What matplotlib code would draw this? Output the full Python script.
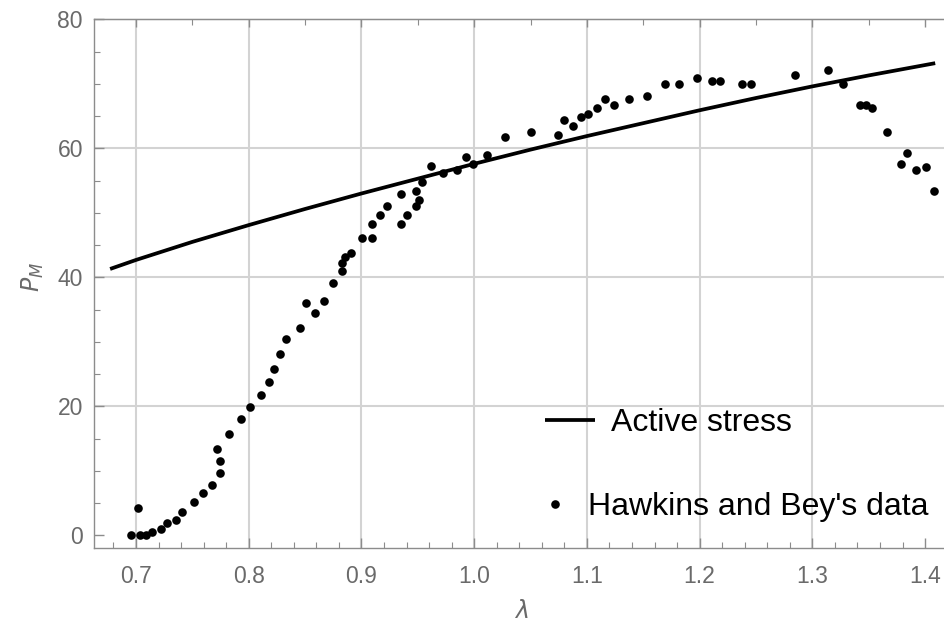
import matplotlib
matplotlib.use("Agg")
import matplotlib.pyplot as plt
from matplotlib.ticker import MultipleLocator, FixedLocator
from matplotlib.lines import Line2D

plt.rcParams['font.family'] = ['Liberation Sans', 'DejaVu Sans']

# Hawkins and Bey's data (stretch, force)
data_lam = [0.6959, 0.7014, 0.7038, 0.7090, 0.7145, 0.7220, 0.7275, 0.7355, 0.7410, 0.7510,
            0.7590, 0.7670, 0.7747, 0.7747, 0.7718, 0.7827, 0.7930, 0.8013, 0.8113, 0.8176,
            0.8223, 0.8273, 0.8326, 0.8459, 0.8510, 0.8590, 0.8670, 0.8746, 0.8823, 0.8823,
            0.8853, 0.8906, 0.9006, 0.9089, 0.9089, 0.9166, 0.9225, 0.9350, 0.9350, 0.9403,
            0.9485, 0.9509, 0.9485, 0.9535, 0.9615, 0.9722, 0.9846, 0.9928, 0.9988, 1.0112,
            1.0274, 1.0500, 1.0744, 1.0797, 1.0874, 1.0950, 1.1010, 1.1087, 1.1163, 1.1240,
            1.1376, 1.1530, 1.1690, 1.1820, 1.1979, 1.2110, 1.2180, 1.2372, 1.2452, 1.2845,
            1.3135, 1.3268, 1.3422, 1.3480, 1.3530, 1.3663, 1.3791, 1.3844, 1.3924, 1.4004,
            1.4083]
data_P = [0.1, 4.3, 0.0, 0.0, 0.5, 1.0, 1.9, 2.35, 3.7, 5.1,
          6.5, 7.8, 9.7, 11.55, 13.4, 15.7, 18.0, 19.9, 21.7, 23.8,
          25.8, 28.1, 30.5, 32.2, 36.0, 34.5, 36.4, 39.1, 41.0, 42.3,
          43.2, 43.7, 46.1, 46.1, 48.3, 49.7, 51.1, 48.3, 52.9, 49.7,
          51.1, 52.0, 53.4, 54.8, 57.2, 56.2, 56.7, 58.6, 57.6, 59.0,
          61.7, 62.6, 62.1, 64.4, 63.5, 64.8, 65.3, 66.2, 67.6, 66.7,
          67.6, 68.1, 69.95, 69.95, 70.9, 70.4, 70.4, 69.95, 69.95, 71.3,
          72.2, 69.95, 66.7, 66.7, 66.2, 62.6, 57.5, 59.35, 56.6, 57.1,
          53.4]

# Active stress curve
model_lam = [0.677, 0.70, 0.75, 0.80, 0.85, 0.90, 0.95, 1.00, 1.05, 1.10,
             1.15, 1.20, 1.25, 1.30, 1.35, 1.409]
model_P = [41.3, 42.7, 45.5, 48.1, 50.6, 53.0, 55.3, 57.6, 59.8, 61.9,
           63.9, 65.9, 67.8, 69.6, 71.3, 73.2]

x_ticks = [0.7, 0.8, 0.9, 1.0, 1.1, 1.2, 1.3, 1.4]
x_ticklabels = ['0.7', '0.8', '0.9', '1.0', '1.1', '1.2', '1.3', '1.4']
y_ticks = [0, 20, 40, 60, 80]
x_grid = [0.7, 0.8, 0.9, 1.0, 1.1, 1.2, 1.3]
y_grid = [20, 40, 60]

GRAY = '#6a6a6a'
FRAME = '#8c8c8c'
GRID = '#d3d3d3'

W, H = 945, 638
fig = plt.figure(figsize=(W / 100, H / 100), dpi=100)
left, right, top, bottom = 94, 945, 19.3, 548.3
ax = fig.add_axes([left / W, 1 - bottom / H, (right - left) / W, (bottom - top) / H])

ax.set_xlim(0.6627, 1.4177)
ax.set_ylim(-2, 80)

for gx in x_grid:
    ax.axvline(gx, color=GRID, lw=1.5, zorder=0)
for gy in y_grid:
    ax.axhline(gy, color=GRID, lw=1.5, zorder=0)

ax.plot(model_lam, model_P, color='black', lw=2.7, solid_capstyle='butt', zorder=3,
        label='Active stress')
ax.plot(data_lam, data_P, linestyle='none', marker='o', ms=6.2, color='black',
        markeredgewidth=0, zorder=4, label="Hawkins and Bey's data")

for s in ax.spines.values():
    s.set_color(FRAME)
    s.set_linewidth(1.0)

ax.xaxis.set_major_locator(FixedLocator(x_ticks))
ax.set_xticklabels(x_ticklabels)
ax.xaxis.set_minor_locator(MultipleLocator(0.02))
ax.yaxis.set_major_locator(FixedLocator(y_ticks))
ax.yaxis.set_minor_locator(MultipleLocator(5))
ax.tick_params(which='both', direction='in', color=FRAME, labelcolor=GRAY,
               labelsize=16.5, top=False, right=False)
ax.tick_params(which='major', length=7, width=1.0)
ax.tick_params(which='minor', length=4, width=0.8)
ax.tick_params(axis='x', pad=12)
ax.tick_params(axis='y', pad=8)

secx = ax.secondary_xaxis('top')
secx.xaxis.set_major_locator(FixedLocator([0.7, 0.8, 0.9, 1.0, 1.1, 1.2, 1.3, 1.4]))
secx.xaxis.set_minor_locator(MultipleLocator(0.05))
secx.tick_params(which='both', direction='in', color=FRAME, labeltop=False)
secx.tick_params(which='major', length=6, width=1.0)
secx.tick_params(which='minor', length=4, width=0.8)
secx.spines['top'].set_color(FRAME)

fig.text(33 / W, 1 - 277 / H, r'$P_M$', rotation=90, ha='center', va='center',
         fontsize=17, color=GRAY)
fig.text(521 / W, 1 - 612 / H, r'$\lambda$', ha='center', va='center',
         fontsize=17, color=GRAY)

h_line = Line2D([], [], color='black', lw=2.7, solid_capstyle='butt')
h_dot = Line2D([], [], color='black', marker='o', ms=6.2, linestyle='none', markeredgewidth=0)
fs = 23
leg1 = fig.legend([h_line], ['Active stress'], loc='center left',
                  bbox_to_anchor=(545 / W, 1 - 423 / H), frameon=False, fontsize=fs,
                  handlelength=1.55, handletextpad=0.52, borderpad=0, borderaxespad=0)
leg2 = fig.legend([h_dot], ["Hawkins and Bey's data"], loc='center left',
                  bbox_to_anchor=(539.5 / W, 1 - 507 / H), frameon=False, fontsize=fs,
                  handlelength=1.0, handletextpad=0.52, borderpad=0, borderaxespad=0)

fig.savefig('out.png', dpi=100)
